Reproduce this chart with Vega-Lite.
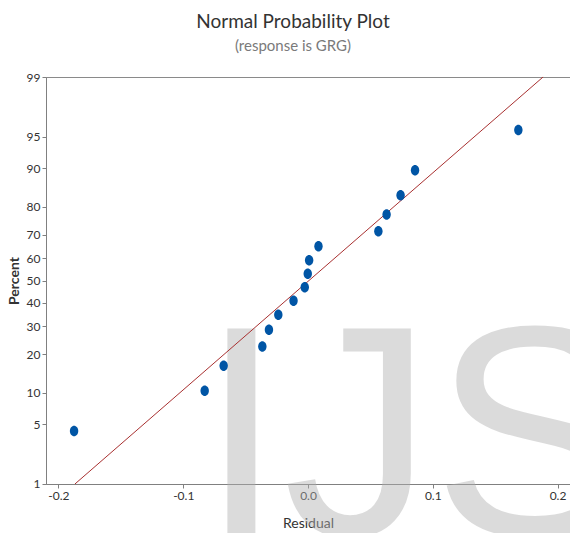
{
  "$schema": "https://vega.github.io/schema/vega-lite/v6.json",
  "width": 524,
  "height": 407,
  "autosize": {"type": "none"},
  "padding": {"left": 46, "top": 77, "right": 0, "bottom": 49},
  "background": "white",
  "title": {
    "text": "Normal Probability Plot",
    "subtitle": "(response is GRG)",
    "anchor": "middle",
    "frame": "group",
    "dx": -15,
    "font": "Lato",
    "fontSize": 19,
    "fontWeight": "normal",
    "color": "#333333",
    "subtitleFont": "Lato",
    "subtitleFontSize": 15,
    "subtitleColor": "#7a7a7a",
    "subtitlePadding": 7,
    "offset": 17
  },
  "config": {
    "view": {"stroke": "#8a8a8a", "strokeWidth": 1},
    "axis": {
      "domainColor": "#808080",
      "tickColor": "#808080",
      "gridColor": "#e6e6e6",
      "labelFont": "Lato",
      "labelFontSize": 12,
      "labelColor": "#333333",
      "labelOverlap": false,
      "titleFont": "Lato",
      "titleColor": "#333333",
      "tickSize": 4,
      "labelPadding": 2
    }
  },
  "datasets": {
    "points": [
      {"residual": -0.1875, "percent": 4.27, "score": -1.7203},
      {"residual": -0.0828, "percent": 10.37, "score": -1.2606},
      {"residual": -0.0676, "percent": 16.46, "score": -0.9757},
      {"residual": -0.0366, "percent": 22.56, "score": -0.7534},
      {"residual": -0.0313, "percent": 28.66, "score": -0.5634},
      {"residual": -0.0238, "percent": 34.76, "score": -0.3919},
      {"residual": -0.0116, "percent": 40.85, "score": -0.2313},
      {"residual": -0.0026, "percent": 46.95, "score": -0.0765},
      {"residual": -0.0002, "percent": 53.05, "score": 0.0765},
      {"residual": 0.0009, "percent": 59.15, "score": 0.2313},
      {"residual": 0.0084, "percent": 65.24, "score": 0.3919},
      {"residual": 0.0564, "percent": 71.34, "score": 0.5634},
      {"residual": 0.0630, "percent": 77.44, "score": 0.7534},
      {"residual": 0.0742, "percent": 83.54, "score": 0.9757},
      {"residual": 0.0858, "percent": 89.63, "score": 1.2606},
      {"residual": 0.1686, "percent": 95.73, "score": 1.7203}
    ],
    "fit": [
      {"residual": -0.1868, "percent": 1, "score": -2.3263},
      {"residual": 0.1884, "percent": 99, "score": 2.3263}
    ],
    "watermark": [
      {"label": "IJS"}
    ]
  },
  "layer": [
    {
      "data": {"name": "watermark"},
      "mark": {"type": "text", "font": "Liberation Sans", "fontSize": 300, "align": "left", "baseline": "alphabetic", "color": "#b0b0b0", "opacity": 0.45},
      "encoding": {
        "x": {"datum": -0.0868},
        "y": {"datum": -2.909},
        "text": {"field": "label"}
      }
    },
    {
      "data": {"name": "fit"},
      "mark": {"type": "line", "color": "#a83030", "strokeWidth": 1},
      "encoding": {
        "x": {"field": "residual", "type": "quantitative"},
        "y": {"field": "score", "type": "quantitative"}
      }
    },
    {
      "data": {"name": "points"},
      "mark": {"type": "point", "filled": true, "opacity": 1, "color": "#0055a5", "shape": "M0,-1A0.8,1 0 1,1 0,1A0.8,1 0 1,1 0,-1Z", "size": 110},
      "encoding": {
        "x": {
          "field": "residual",
          "type": "quantitative",
          "scale": {"domain": [-0.21, 0.21], "nice": false, "zero": false},
          "axis": {
            "title": "Residual",
            "titleFontSize": 14,
            "titleFontWeight": "normal",
            "titlePadding": 15,
            "tickCount": 20,
            "values": [-0.2, -0.15, -0.1, -0.05, 0, 0.05, 0.1, 0.15, 0.2],
            "labelExpr": "round(datum.value*20) % 2 == 0 ? replace(format(datum.value, '.1f'), '\u2212', '-') : ''",
            "tickOpacity": {"condition": {"test": "round(datum.value*20) % 2 != 0", "value": 0}, "value": 1}
          }
        },
        "y": {
          "field": "score",
          "type": "quantitative",
          "scale": {"domain": [-2.32635, 2.32635], "nice": false, "zero": false},
          "axis": {
            "title": "Percent",
            "titleFontSize": 14,
            "titleFontWeight": "bold",
            "titlePadding": 5,
            "tickCount": 20,
            "values": [-2.3263, -1.6449, -1.2816, -0.8416, -0.5244, -0.2533, 0, 0.2533, 0.5244, 0.8416, 1.2816, 1.6449, 2.3263],
            "labelExpr": "format(cumulativeNormal(datum.value) * 100, '.0f')"
          }
        }
      }
    }
  ]
}
